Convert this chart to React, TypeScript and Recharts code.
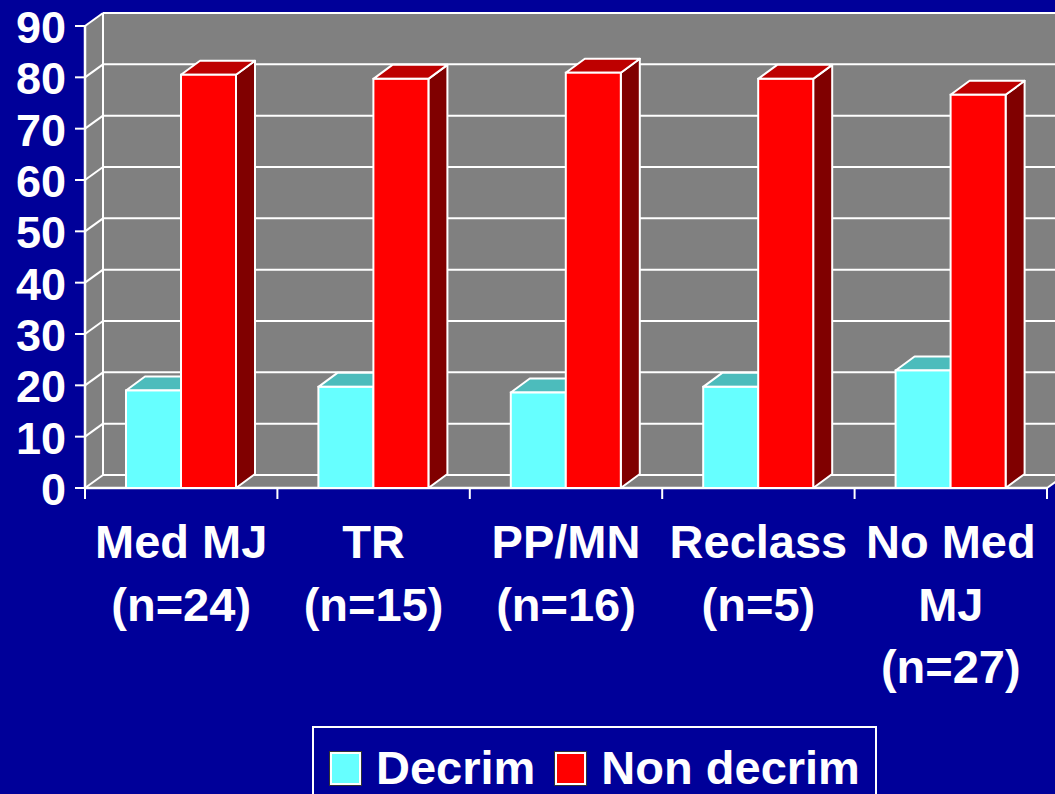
import React from 'react';
import { BarChart, Bar, XAxis, YAxis, CartesianGrid, Legend } from 'recharts';

const categories = ['Med MJ\n(n=24)', 'TR\n(n=15)', 'PP/MN\n(n=16)', 'Reclass\n(n=5)', 'No Med\nMJ\n(n=27)'];
const decrimValues = [19.0, 19.7, 18.6, 19.7, 22.9];
const nonDecrimValues = [80.5, 79.7, 80.9, 79.7, 76.6];
const yTicks = [0, 10, 20, 30, 40, 50, 60, 70, 80, 90];
const seriesNames = ['Decrim', 'Non decrim'];

const data = categories.map((c, i) => ({ category: c, decrim: decrimValues[i], nonDecrim: nonDecrimValues[i] }));

const BG = '#000099';
const WALL = '#808080';
const WHITE = '#ffffff';
const FONT = '"Liberation Sans", Arial, sans-serif';
const DX = 18;
const DY = 13;
const BDX = 19;
const BDY = 14;

const make3DBar = (front: string, top: string, side: string) => (props: any) => {
  const { x, y, width, height } = props;
  if (x == null || y == null || !width || height == null) return <g />;
  const r = x + width;
  const b = y + height;
  return (
    <g>
      <polygon
        points={`${r},${y} ${r + BDX},${y - BDY} ${r + BDX},${b - BDY} ${r},${b}`}
        fill={side}
        stroke={WHITE}
        strokeWidth={2}
        strokeLinejoin="round"
      />
      <polygon
        points={`${x},${y} ${x + BDX},${y - BDY} ${r + BDX},${y - BDY} ${r},${y}`}
        fill={top}
        stroke={WHITE}
        strokeWidth={2}
        strokeLinejoin="round"
      />
      <rect x={x} y={y} width={width} height={height} fill={front} stroke={WHITE} strokeWidth={2} />
    </g>
  );
};

const CyanBar = make3DBar('#66FFFF', '#4CBCBC', '#339999');
const RedBar = make3DBar('#FF0000', '#BE0000', '#800000');

const renderGridLine = (props: any) => {
  const { x1, x2, y1, index, y, height } = props;
  const left = x1;
  const right = x2;
  const top = y;
  const bottom = y + height;
  return (
    <g key={`gl-${index}`}>
      {index === 0 && (
        <g>
          <rect x={left + DX} y={top - DY} width={right - left} height={bottom - top} fill={WALL} />
          <polygon
            points={`${left},${top} ${left + DX},${top - DY} ${left + DX},${bottom - DY} ${left},${bottom}`}
            fill={WALL}
          />
          <polygon
            points={`${left},${bottom} ${left + DX},${bottom - DY} ${right + DX},${bottom - DY} ${right},${bottom}`}
            fill={WALL}
          />
          <line x1={left + DX} y1={top - DY} x2={left + DX} y2={bottom - DY} stroke={WHITE} strokeWidth={2} />
          <line x1={left} y1={top} x2={left} y2={bottom} stroke={WHITE} strokeWidth={2.5} />
          <line x1={left} y1={bottom} x2={right} y2={bottom} stroke={WHITE} strokeWidth={2.5} />
          <line x1={right} y1={bottom} x2={right + DX} y2={bottom - DY} stroke={WHITE} strokeWidth={2} />
        </g>
      )}
      <line x1={left} y1={y1} x2={left + DX} y2={y1 - DY} stroke={WHITE} strokeWidth={2} />
      <line x1={left + DX} y1={y1 - DY} x2={right + DX} y2={y1 - DY} stroke={WHITE} strokeWidth={2} />
    </g>
  );
};

const YTick = (props: any) => {
  const { x, y, payload } = props;
  return (
    <text x={x} y={y + 17} textAnchor="end" fill={WHITE} fontSize={45} fontWeight="bold" fontFamily={FONT}>
      {payload.value}
    </text>
  );
};

const XTick = (props: any) => {
  const { x, y, payload, width, visibleTicksCount, index } = props;
  const count = visibleTicksCount || categories.length;
  const half = payload && payload.offset ? payload.offset : width / count / 2;
  const lines = String(payload.value).split('\n');
  return (
    <g>
      <line x1={x - half} x2={x - half} y1={y} y2={y + 11} stroke={WHITE} strokeWidth={2} />
      {index === count - 1 && <line x1={x + half} x2={x + half} y1={y} y2={y + 11} stroke={WHITE} strokeWidth={2} />}
      <text x={x} y={y + 70} textAnchor="middle" fill={WHITE} fontSize={47} fontWeight="bold" fontFamily={FONT}>
        {lines.map((l, i) => (
          <tspan key={i} x={x} dy={i === 0 ? 0 : 62.5}>
            {l}
          </tspan>
        ))}
      </text>
    </g>
  );
};

const renderLegend = (props: any) => {
  const { payload } = props;
  return (
    <div
      style={{
        boxSizing: 'border-box',
        width: 565,
        height: 80,
        border: `2px solid ${WHITE}`,
        display: 'flex',
        alignItems: 'flex-start',
        paddingLeft: 16,
        fontFamily: FONT,
      }}
    >
      {(payload || []).map((entry: any, i: number) => (
        <div key={i} style={{ display: 'flex', alignItems: 'flex-start', marginRight: 20 }}>
          <div
            style={{
              boxSizing: 'border-box',
              width: 31,
              height: 33,
              marginTop: 24,
              marginRight: 15,
              background: entry.color,
              border: `2px solid ${WHITE}`,
              outline: '1px solid #333',
            }}
          />
          <span
            style={{
              color: WHITE,
              fontSize: 47,
              fontWeight: 'bold',
              lineHeight: '47px',
              marginTop: 16,
              whiteSpace: 'nowrap',
            }}
          >
            {entry.value}
          </span>
        </div>
      ))}
    </div>
  );
};

export default function App() {
  return (
    <div style={{ position: 'absolute', left: 0, top: 0, width: 1055, height: 794, background: BG, overflow: 'hidden' }}>
      <BarChart
        width={1055}
        height={794}
        data={data}
        margin={{ top: 26, right: 8, bottom: 0, left: 0 }}
        barGap={0}
        barSize={55}
      >
        <CartesianGrid horizontal={renderGridLine} vertical={false} />
        <XAxis
          dataKey="category"
          axisLine={false}
          tickLine={false}
          tickSize={0}
          tickMargin={0}
          interval={0}
          height={306}
          tick={XTick}
        />
        <YAxis
          domain={[0, 90]}
          ticks={yTicks}
          interval={0}
          width={85}
          tickSize={10}
          tickMargin={9}
          axisLine={false}
          tickLine={{ stroke: WHITE, strokeWidth: 2 }}
          tick={YTick}
        />
        <Legend
          verticalAlign="middle"
          align="center"
          layout="horizontal"
          wrapperStyle={{ left: 312, top: 726, width: 565, height: 80 }}
          content={renderLegend}
        />
        <Bar dataKey="decrim" name={seriesNames[0]} fill="#66FFFF" shape={CyanBar} isAnimationActive={false} />
        <Bar dataKey="nonDecrim" name={seriesNames[1]} fill="#FF0000" shape={RedBar} isAnimationActive={false} />
      </BarChart>
    </div>
  );
}
